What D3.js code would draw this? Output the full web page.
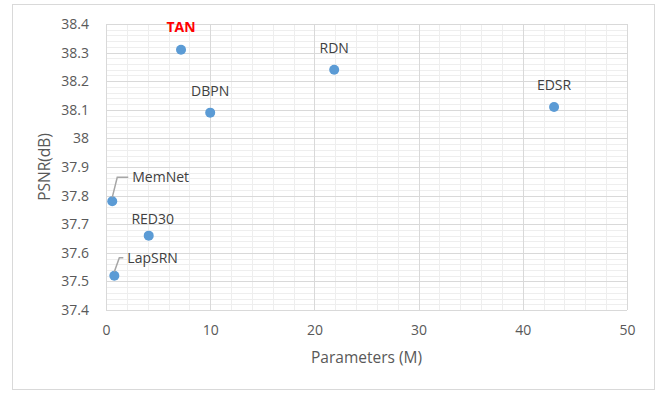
<!DOCTYPE html>
<html>
<head>
<meta charset="utf-8">
<script src="https://cdn.jsdelivr.net/npm/d3@7"></script>
<style>
  body { margin: 0; background: #fff; }
  text { font-family: "Open Sans", "Liberation Sans", sans-serif; }
</style>
</head>
<body>
<div id="container"></div>
<script>
/* DATA */
const models = ["TAN", "DBPN", "RDN", "EDSR", "MemNet", "RED30", "LapSRN"];
const params = [7.2, 10, 21.9, 43, 0.6, 4.1, 0.8];
const psnr = [38.31, 38.09, 38.24, 38.11, 37.78, 37.66, 37.52];
const xTicks = [0, 10, 20, 30, 40, 50];
const yTicks = [37.4, 37.5, 37.6, 37.7, 37.8, 37.9, 38, 38.1, 38.2, 38.3, 38.4];

/* CONSTANTS */
const width = 661, height = 393;
const margin = { top: 24, bottom: 83, left: 106, right: 34 };

const svg = d3.select("#container")
  .append("svg")
  .attr("width", width)
  .attr("height", height);

// outer chart frame
svg.append("rect")
  .attr("x", 12.5).attr("y", 4.5)
  .attr("width", 642).attr("height", 385)
  .attr("fill", "#fff")
  .attr("stroke", "#d9d9d9");

const x = d3.scaleLinear().domain([0, 50]).range([margin.left, width - margin.right]);
const y = d3.scaleLinear().domain([37.4, 38.4]).range([height - margin.bottom, margin.top]);

// minor gridlines
const minorX = d3.range(0, 50.001, 2);
const minorY = d3.range(0, 51).map(i => 37.4 + i * 0.02);
svg.selectAll("line.minorx")
  .data(minorX)
  .join("line")
  .attr("class", "minorx")
  .attr("x1", d => Math.round(x(d)) + 0.5).attr("x2", d => Math.round(x(d)) + 0.5)
  .attr("y1", y(37.4)).attr("y2", y(38.4))
  .attr("stroke", "#eeeeee");
svg.selectAll("line.minory")
  .data(minorY)
  .join("line")
  .attr("class", "minory")
  .attr("y1", d => Math.round(y(d)) + 0.5).attr("y2", d => Math.round(y(d)) + 0.5)
  .attr("x1", x(0)).attr("x2", x(50))
  .attr("stroke", "#eeeeee");

// major gridlines
svg.selectAll("line.majorx")
  .data(xTicks)
  .join("line")
  .attr("class", "majorx")
  .attr("x1", d => Math.round(x(d)) + 0.5).attr("x2", d => Math.round(x(d)) + 0.5)
  .attr("y1", y(37.4)).attr("y2", y(38.4))
  .attr("stroke", "#d9d9d9");
svg.selectAll("line.majory")
  .data(yTicks)
  .join("line")
  .attr("class", "majory")
  .attr("y1", d => Math.round(y(d)) + 0.5).attr("y2", d => Math.round(y(d)) + 0.5)
  .attr("x1", x(0)).attr("x2", x(50))
  .attr("stroke", "#d9d9d9");

// AXES (labels only)
const xAxis = svg.append("g")
  .attr("transform", `translate(0, ${y(37.4) + 12})`)
  .call(d3.axisBottom(x).tickValues(xTicks).tickSize(0).tickFormat(d3.format("d")));
const yAxis = svg.append("g")
  .attr("transform", `translate(${x(0) - 14}, 0)`)
  .call(d3.axisLeft(y).tickValues(yTicks).tickSize(0).tickFormat(d => +d.toFixed(1)));
[xAxis, yAxis].forEach(a => {
  a.select(".domain").remove();
  a.selectAll("text")
    .attr("fill", "#595959")
    .style("font-size", "14px")
    .style("font-family", "'Open Sans', 'Liberation Sans', sans-serif");
});

// axis titles
svg.append("text")
  .attr("x", (x(0) + x(50)) / 2).attr("y", 363)
  .attr("text-anchor", "middle")
  .attr("fill", "#595959")
  .style("font-size", "15.5px")
  .text("Parameters (M)");
svg.append("text")
  .attr("transform", `translate(50, ${(y(37.4) + y(38.4)) / 2}) rotate(-90)`)
  .attr("text-anchor", "middle")
  .attr("fill", "#595959")
  .style("font-size", "15.5px")
  .text("PSNR(dB)");

// POINTS
const pts = models.map((m, i) => ({ name: m, p: params[i], v: psnr[i] }));
svg.selectAll("circle.pt")
  .data(pts)
  .join("circle")
  .attr("class", "pt")
  .attr("cx", d => x(d.p))
  .attr("cy", d => y(d.v))
  .attr("r", 5)
  .attr("fill", "#5b9bd5");

// LABELS: offsets in px from the point
const labelPos = {
  TAN:    { dx: 0,  dy: -23, anchor: "middle" },
  DBPN:   { dx: 0,  dy: -22, anchor: "middle" },
  RDN:    { dx: 0,  dy: -22, anchor: "middle" },
  EDSR:   { dx: 0,  dy: -22, anchor: "middle" },
  RED30:  { dx: 4,  dy: -17, anchor: "middle" },
  MemNet: { dx: 20, dy: -24, anchor: "start", leader: true },
  LapSRN: { dx: 13, dy: -18, anchor: "start", leader: true }
};

svg.selectAll("text.lbl")
  .data(pts)
  .join("text")
  .attr("class", "lbl")
  .attr("x", d => x(d.p) + labelPos[d.name].dx)
  .attr("y", d => y(d.v) + labelPos[d.name].dy)
  .attr("dy", "0.35em")
  .attr("text-anchor", d => labelPos[d.name].anchor)
  .attr("fill", d => d.name === "TAN" ? "#ff0000" : "#404040")
  .style("font-size", "14px")
  .style("font-weight", d => d.name === "TAN" ? "bold" : "normal")
  .text(d => d.name);

// leader lines
svg.selectAll("polyline.leader")
  .data(pts.filter(d => labelPos[d.name].leader))
  .join("polyline")
  .attr("class", "leader")
  .attr("points", d => {
    const cx = x(d.p), cy = y(d.v), L = labelPos[d.name];
    return [[cx, cy - 4], [cx + 5, cy + L.dy], [cx + L.dx - 4, cy + L.dy]].join(" ");
  })
  .attr("fill", "none")
  .attr("stroke", "#a6a6a6")
  .attr("stroke-width", 1.5);
</script>
</body>
</html>
